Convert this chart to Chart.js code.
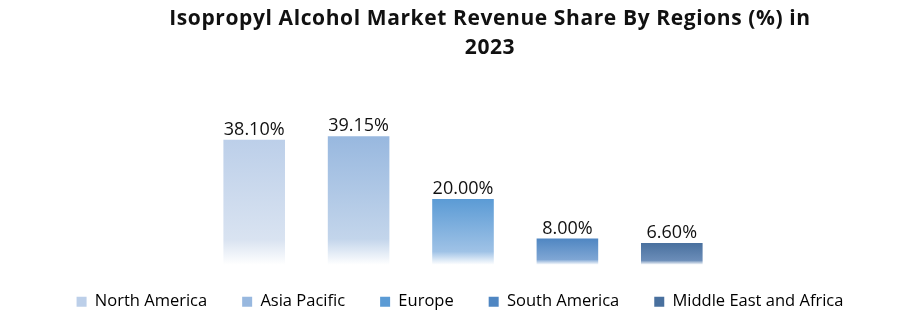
<!DOCTYPE html>
<html>
<head>
<meta charset="utf-8">
<script src="https://cdn.jsdelivr.net/npm/chart.js@4.4.1/dist/chart.umd.min.js"></script>
<style>
  html, body { margin: 0; padding: 0; background: #fff; }
  #wrap { position: relative; width: 904px; height: 331px; }
  #title {
    position: absolute; left: 0; top: 3px; width: 980px;
    text-align: center; font-family: "Open Sans", sans-serif;
    font-weight: 700; font-size: 21px; letter-spacing: 0.6px;
    line-height: 29px; color: #111;
  }
  canvas { position: absolute; left: 0; top: 0; }
</style>
</head>
<body>
<div id="wrap">
  <canvas id="chart" width="904" height="331"></canvas>
  <div id="title">Isopropyl Alcohol Market Revenue Share By Regions (%) in<br>2023</div>
</div>
<script>
const regions = ['North America', 'Asia Pacific', 'Europe', 'South America', 'Middle East and Africa'];
const shares = [38.10, 39.15, 20.00, 8.00, 6.60];
const topColors = ['#bccfe9', '#98b8df', '#5b9bd5', '#4f86c2', '#49709e'];
const midColors = ['#d9e3f1', '#c3d5eb', '#9fc2e6', '#7fa6d4', '#6b8db8'];

// vertical fade to white at the base of each bar
const barFill = (ctx, i, top, bottom) => {
  const g = ctx.createLinearGradient(0, top, 0, bottom);
  g.addColorStop(0, topColors[i]);
  g.addColorStop(0.8, midColors[i]);
  g.addColorStop(1, '#ffffff');
  return g;
};

const valueLabels = {
  id: 'valueLabels',
  afterDatasetsDraw(chart) {
    const { ctx } = chart;
    const meta = chart.getDatasetMeta(0);
    ctx.save();
    ctx.font = '18px "Open Sans", sans-serif';
    ctx.fillStyle = '#111';
    ctx.textAlign = 'center';
    ctx.textBaseline = 'bottom';
    meta.data.forEach((bar, i) => {
      ctx.fillText(shares[i].toFixed(2) + '%', bar.x, bar.y - 1);
    });
    ctx.restore();
  }
};

// invisible axes, only used to reserve space left / right of the bars
const spacer = (w, pos) => ({
  display: true,
  position: pos,
  grid: { display: false },
  border: { display: false },
  ticks: { display: false },
  afterFit: (s) => { s.width = w; }
});

new Chart(document.getElementById('chart'), {
  type: 'bar',
  data: {
    labels: regions,
    datasets: [{
      data: shares,
      base: 0,
      clip: false,
      backgroundColor: (c) => {
        const area = c.chart.chartArea;
        if (!area || c.dataIndex === undefined) return topColors[0];
        const ys = c.chart.scales.y;
        return barFill(c.chart.ctx, c.dataIndex, ys.getPixelForValue(shares[c.dataIndex]), ys.getPixelForValue(0));
      },
      borderWidth: 0,
      barPercentage: 0.59,
      categoryPercentage: 1
    }]
  },
  options: {
    responsive: false,
    animation: false,
    layout: { padding: { left: 16, right: 0, top: 117, bottom: 11 } },
    scales: {
      x: { display: false },
      y: { ...spacer(186, 'left'), min: 1.9, max: 45 },
      y2: spacer(180, 'right')
    },
    plugins: {
      title: { display: false },
      tooltip: { enabled: false },
      legend: {
        position: 'bottom',
        labels: {
          font: { family: '"Open Sans", sans-serif', size: 16.5 },
          color: '#111',
          boxWidth: 10,
          boxHeight: 10,
          padding: 35,
          generateLabels: () => regions.map((r, i) => ({
            text: r,
            fillStyle: topColors[i],
            strokeStyle: topColors[i],
            lineWidth: 0,
            hidden: false,
            index: i
          }))
        }
      }
    }
  },
  plugins: [valueLabels]
});
</script>
</body>
</html>
